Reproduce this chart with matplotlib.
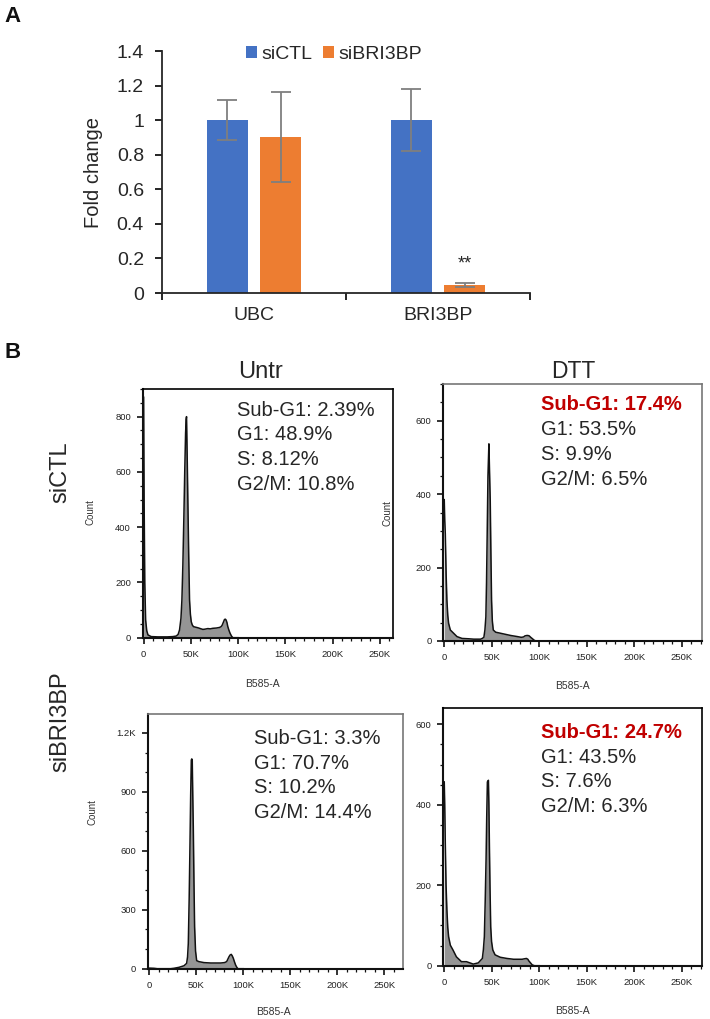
import matplotlib
matplotlib.use('Agg')
import matplotlib.pyplot as plt
from matplotlib.ticker import FixedLocator, MultipleLocator

plt.rcParams['font.family'] = ['Liberation Sans', 'DejaVu Sans']

# ---------------- Panel A data ----------------
genes = ['UBC', 'BRI3BP']
series_names = ['siCTL', 'siBRI3BP']
ctl_mean = [1.0, 1.0]
ctl_err = [0.115, 0.18]
kd_mean = [0.90, 0.045]
kd_err = [0.26, 0.012]
sig_marks = ['', '**']
fold_ticks = [0, 0.2, 0.4, 0.6, 0.8, 1.0, 1.2, 1.4]
fold_tick_labels = ['0', '0.2', '0.4', '0.6', '0.8', '1', '1.2', '1.4']

# ---------------- Panel B data (x in K units of B585-A, y = count) ----------------
conditions = ['Untr', 'DTT']
groups = ['siCTL', 'siBRI3BP']
x_tick_vals = [0, 50, 100, 150, 200, 250]
x_tick_labels = ['0', '50K', '100K', '150K', '200K', '250K']

ctl_untr_x = [0, 0.5, 1.2, 2.1, 3.3, 4.6, 8, 15, 25, 31, 34.5, 36.5, 38, 39.5, 40.5, 41.5,
              42.6, 43.5, 44.4, 45.0, 45.4, 45.9, 46.8, 47.7, 48.6, 49.5, 50.4, 51.5, 52.8,
              55, 57.4, 60, 62.7, 65, 68, 70.5, 73.2, 77, 80.3, 82, 83.1, 84.3, 85.6, 86.5,
              87.3, 88.2, 89.1, 90.3, 91.5, 93, 94.4, 100]
ctl_untr_y = [870, 500, 200, 64, 25, 10, 4, 3, 3, 4, 6, 12, 28, 70, 136, 260,
              438, 600, 740, 790, 800, 700, 498, 300, 136, 85, 58, 46, 40,
              38, 36, 33, 30, 31, 33, 32, 34, 35, 37, 40, 45, 55, 66, 67,
              64, 55, 40, 27, 16, 6, 0, 0]

ctl_dtt_x = [0, 0.5, 1.1, 2.0, 2.8, 3.7, 4.6, 6.4, 9.9, 13.4, 18.7, 25.8, 31.1, 36, 38.2, 40,
             41.7, 42.8, 43.8, 44.5, 45.2, 46.0, 47.0, 47.6, 48.4, 49.1, 49.8, 50.6, 51.6,
             54.1, 59.4, 64.7, 70, 77, 81, 83.4, 85, 86.9, 88, 89.4, 91, 92.9, 94.7, 96.5, 100]
ctl_dtt_y = [385, 330, 292, 180, 111, 70, 48, 30, 21, 12, 7, 6, 5, 5, 5, 7,
             10, 30, 66, 160, 292, 450, 537, 470, 383, 240, 111, 55, 30,
             24, 21, 18, 15, 12, 10, 11, 14, 15, 15, 14, 10, 6, 2, 0, 0]

kd_untr_x = [0, 5, 8.5, 22.7, 26.2, 31.6, 36.9, 39.7, 40.7, 41.5, 42.4, 43.3, 44.0, 44.7,
             45.2, 45.7, 46.2, 46.8, 47.5, 48.2, 49.2, 50.4, 52.8, 58.2, 65.2, 75.9, 80,
             82.3, 83.5, 84.8, 86, 87.2, 88.3, 89.4, 90.6, 91.8, 93, 94.3, 100]
kd_untr_y = [3, 2, 0, 0, 2, 7, 15, 27, 60, 129, 350, 638, 880, 1062,
             1068, 1060, 900, 723, 450, 214, 90, 41, 36, 31, 29, 29, 31,
             36, 48, 61, 70, 73, 65, 53, 35, 19, 8, 0, 0]

kd_dtt_x = [0, 0.5, 1.1, 1.9, 2.8, 3.7, 4.6, 6.4, 9.2, 12.8, 18.1, 23.4, 27, 30.5, 35.8,
            40.1, 41.2, 42.2, 43.1, 44, 44.7, 45.4, 46.5, 47.0, 47.5, 48.2, 48.9, 49.8,
            51.1, 53.5, 58.9, 66, 73, 81.9, 84, 86.5, 88, 89, 90.8, 92.6, 95, 100]
kd_dtt_y = [457, 400, 304, 200, 138, 95, 72, 51, 39, 22, 10, 10, 7, 4, 7,
            18, 40, 72, 160, 263, 370, 457, 461, 400, 304, 190, 97, 60,
            39, 27, 21, 18, 16, 16, 17, 18, 16, 12, 7, 2, 0, 0]

ctl_untr_stats = ['Sub-G1: 2.39%', 'G1: 48.9%', 'S: 8.12%', 'G2/M: 10.8%']
ctl_dtt_stats = ['Sub-G1: 17.4%', 'G1: 53.5%', 'S: 9.9%', 'G2/M: 6.5%']
kd_untr_stats = ['Sub-G1: 3.3%', 'G1: 70.7%', 'S: 10.2%', 'G2/M: 14.4%']
kd_dtt_stats = ['Sub-G1: 24.7%', 'G1: 43.5%', 'S: 7.6%', 'G2/M: 6.3%']

ctl_untr_yt = [0, 200, 400, 600, 800]
ctl_untr_ytl = ['0', '200', '400', '600', '800']
ctl_dtt_yt = [0, 200, 400, 600]
ctl_dtt_ytl = ['0', '200', '400', '600']
kd_untr_yt = [0, 300, 600, 900, 1200]
kd_untr_ytl = ['0', '300', '600', '900', '1.2K']
kd_dtt_yt = [0, 200, 400, 600]
kd_dtt_ytl = ['0', '200', '400', '600']

# ---------------- Figure ----------------
W, H = 710, 1019
fig = plt.figure(figsize=(W / 100, H / 100), dpi=100)


def rect(l, t, r, b):
    return [l / W, 1 - b / H, (r - l) / W, (b - t) / H]


def fx(x):
    return x / W


def fy(y):
    return 1 - y / H


BLUE = '#4472C4'
ORANGE = '#ED7D31'
TXT = '#262626'

# ---------------- Panel A ----------------
axA = fig.add_axes(rect(162, 51, 530, 293))
xc = list(range(len(genes)))
off, bw = 0.145, 0.224
errkw = dict(ecolor='#7F7F7F', elinewidth=1.3, capsize=7.5, capthick=1.3)
axA.bar([v - off for v in xc], ctl_mean, width=bw, color=BLUE, yerr=ctl_err,
        error_kw=errkw, label=series_names[0], zorder=2)
axA.bar([v + off for v in xc], kd_mean, width=bw, color=ORANGE, yerr=kd_err,
        error_kw=errkw, label=series_names[1], zorder=2)
for i, m in enumerate(sig_marks):
    if m:
        axA.text(xc[i] + off, kd_mean[i] + kd_err[i] + 0.06, m, ha='center', va='bottom',
                 fontsize=13, color=TXT)
axA.set_xlim(-0.5, 1.5)
axA.set_ylim(0, 1.4)
axA.set_yticks(fold_ticks)
axA.set_yticklabels(fold_tick_labels)
axA.xaxis.set_major_locator(FixedLocator([-0.5, 0.5, 1.5]))
axA.xaxis.set_major_formatter(plt.NullFormatter())
axA.xaxis.set_minor_locator(FixedLocator(xc))
axA.set_xticklabels(genes, minor=True)
axA.tick_params(axis='x', which='major', length=5, width=1.2, direction='out')
axA.tick_params(axis='x', which='minor', length=0, pad=10, labelsize=14, labelcolor=TXT)
axA.tick_params(axis='y', length=5, width=1.2, direction='out', pad=8, labelsize=14,
                labelcolor=TXT)
for s in ['top', 'right']:
    axA.spines[s].set_visible(False)
for s in ['left', 'bottom']:
    axA.spines[s].set_linewidth(1.3)
    axA.spines[s].set_color('#262626')
axA.set_ylabel('Fold change', fontsize=14.5, color=TXT, labelpad=10)
axA.legend(loc='upper left', bbox_to_anchor=(0.228, 1.02), frameon=False, ncol=2,
           handlelength=0.55, handleheight=0.55, handletextpad=0.25, columnspacing=0.55,
           borderpad=0, borderaxespad=0, fontsize=14, labelcolor=TXT)

fig.text(fx(4), fy(17), 'A', fontsize=16, fontweight='bold', va='center', ha='left', color='#111')
fig.text(fx(4), fy(353), 'B', fontsize=16, fontweight='bold', va='center', ha='left', color='#111')

# ---------------- Panel B ----------------
panels = [
    dict(r=(142.7, 389, 393, 637.7), xlim=(-1, 264), ylim=(0, 900), x=ctl_untr_x, y=ctl_untr_y,
         yt=ctl_untr_yt, ytl=ctl_untr_ytl, ymin=50, stats=ctl_untr_stats, red=False,
         tx=236.7, ty=410, xl=(262, 684), cl=(90, 512), spc='k'),
    dict(r=(443.3, 384, 702.3, 641), xlim=(-1, 271.6), ylim=(0, 700), x=ctl_dtt_x, y=ctl_dtt_y,
         yt=ctl_dtt_yt, ytl=ctl_dtt_ytl, ymin=50, stats=ctl_dtt_stats, red=True,
         tx=541, ty=405, xl=(572, 686), cl=(387, 513), spc='#777'),
    dict(r=(147.7, 714.3, 402.7, 968.7), xlim=(-1.7, 269.6), ylim=(0, 1295), x=kd_untr_x,
         y=kd_untr_y, yt=kd_untr_yt, ytl=kd_untr_ytl, ymin=100, stats=kd_untr_stats, red=False,
         tx=254, ty=738.3, xl=(273, 1012), cl=(92, 812), spc='#777'),
    dict(r=(443.3, 708.3, 702.3, 965.7), xlim=(-1, 271.6), ylim=(0, 640), x=kd_dtt_x,
         y=kd_dtt_y, yt=kd_dtt_yt, ytl=kd_dtt_ytl, ymin=50, stats=kd_dtt_stats, red=True,
         tx=541, ty=732.3, xl=(572, 1011), cl=None, spc='k'),
]

for p in panels:
    ax = fig.add_axes(rect(*p['r']))
    ax.fill_between(p['x'], p['y'], 0, color='#959595', lw=0, zorder=1)
    ax.plot(p['x'], p['y'], color='#111111', lw=1.1, zorder=2, clip_on=True)
    ax.set_xlim(*p['xlim'])
    ax.set_ylim(*p['ylim'])
    ax.set_xticks(x_tick_vals)
    ax.set_xticklabels(x_tick_labels)
    ax.xaxis.set_minor_locator(MultipleLocator(10))
    ax.set_yticks(p['yt'])
    ax.set_yticklabels(p['ytl'])
    ax.yaxis.set_minor_locator(MultipleLocator(p['ymin']))
    ax.tick_params(which='major', length=4.5, width=1.2, direction='out', pad=4,
                   labelsize=6.8, labelcolor='#222222', color='#111')
    ax.tick_params(which='minor', length=2.2, width=0.9, direction='out', color='#111')
    ax.spines['left'].set_linewidth(1.5)
    ax.spines['bottom'].set_linewidth(1.5)
    ax.spines['left'].set_color('#111')
    ax.spines['bottom'].set_color('#111')
    for s in ['top', 'right']:
        ax.spines[s].set_linewidth(1.2)
        ax.spines[s].set_color(p['spc'])
    for i, line in enumerate(p['stats']):
        if i == 0 and p['red']:
            fig.text(fx(p['tx']), fy(p['ty']), line, fontsize=14.5, fontweight='bold',
                     color='#C00000', ha='left', va='center')
        else:
            fig.text(fx(p['tx']), fy(p['ty'] + 24.8 * i), line, fontsize=14.5,
                     color=TXT, ha='left', va='center')
    fig.text(fx(p['xl'][0]), fy(p['xl'][1]), 'B585-A', fontsize=7.5, color='#333',
             ha='center', va='center')
    if p['cl'] is not None:
        fig.text(fx(p['cl'][0]), fy(p['cl'][1]), 'Count', fontsize=7, color='#333',
                 ha='center', va='center', rotation=90)

fig.text(fx(260), fy(372), conditions[0], fontsize=17, color=TXT, ha='center', va='center')
fig.text(fx(573), fy(372), conditions[1], fontsize=16.5, color=TXT, ha='center', va='center')
fig.text(fx(60), fy(472), groups[0], fontsize=17, color=TXT, ha='center', va='center',
         rotation=90)
fig.text(fx(60), fy(722), groups[1], fontsize=17, color=TXT, ha='center', va='center',
         rotation=90)

fig.savefig('out.png', dpi=100)
